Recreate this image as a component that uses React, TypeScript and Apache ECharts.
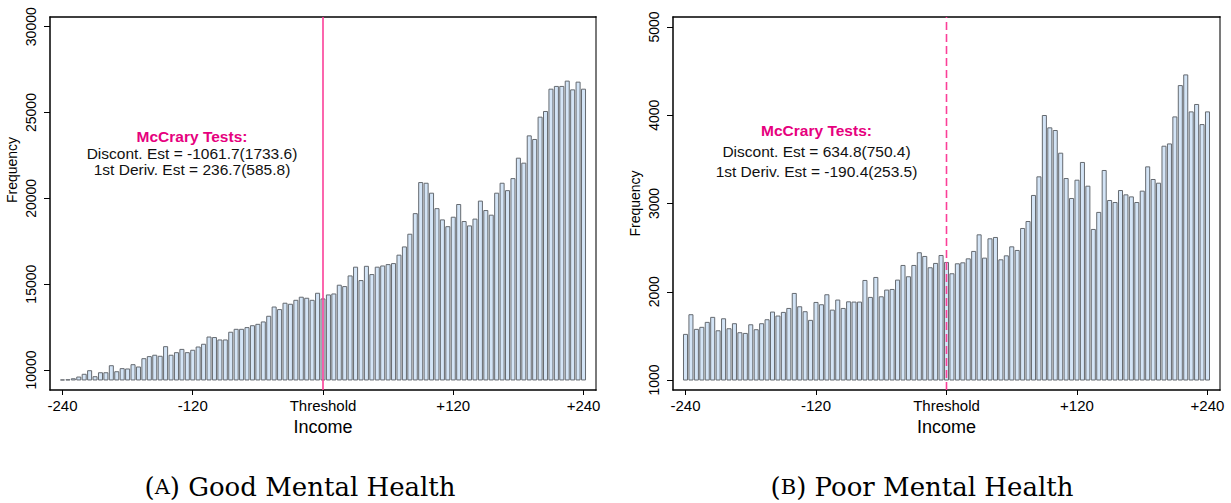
import React, { useEffect, useRef } from "react";
import * as echarts from "echarts";

// Bin centers (income distance to threshold)
const binCenters = [
  -240, -235, -230, -225, -220, -215, -210, -205, -200, -195, -190, -185, -180, -175, -170, -165,
  -160, -155, -150, -145, -140, -135, -130, -125, -120, -115, -110, -105, -100, -95, -90, -85,
  -80, -75, -70, -65, -60, -55, -50, -45, -40, -35, -30, -25, -20, -15, -10, -5,
  0, 5, 10, 15, 20, 25, 30, 35, 40, 45, 50, 55, 60, 65, 70, 75,
  80, 85, 90, 95, 100, 105, 110, 115, 120, 125, 130, 135, 140, 145, 150, 155,
  160, 165, 170, 175, 180, 185, 190, 195, 200, 205, 210, 215, 220, 225, 230, 235, 240,
];

// (A) Good Mental Health frequencies
const goodFreq = [
  9420, 9430, 9490, 9590, 9750, 9960, 9610, 9840, 9840, 10250, 9900, 10080, 10060, 10310, 10175, 10660,
  10780, 10860, 10800, 11360, 10860, 11010, 11200, 11010, 11150, 11340, 11500, 11920, 11890, 11750, 11750, 12200,
  12370, 12370, 12470, 12580, 12660, 12800, 13130, 13670, 13520, 13890, 13830, 14060, 14240, 14180, 14060, 14470,
  14140, 14373, 14430, 14940, 14860, 15480, 15990, 15210, 16040, 15560, 15990, 16060, 16140, 16200, 16690, 17170,
  17910, 19110, 20920, 20880, 20300, 19400, 18745, 18350, 18900, 19640, 18650, 18395, 18790, 19840, 19290, 19020,
  20300, 20880, 20450, 21150, 22340, 22050, 23640, 23430, 24730, 25060, 26360, 26520, 26520, 26830, 26320, 26770, 26360,
];

// (B) Poor Mental Health frequencies
const poorFreq = [
  1517, 1740, 1574, 1597, 1653, 1710, 1558, 1694, 1581, 1638, 1536, 1528, 1626, 1570, 1638, 1683,
  1770, 1725, 1766, 1811, 1981, 1830, 1774, 1676, 1879, 1853, 1966, 1792, 1906, 1811, 1886, 1883,
  1883, 2128, 1936, 2162, 1943, 2019, 2026, 2132, 2298, 2170, 2298, 2442, 2400, 2272, 2321, 2411,
  2332, 2204, 2317, 2328, 2373, 2457, 2645, 2381, 2600, 2615, 2362, 2407, 2509, 2468, 2717, 2796,
  3091, 3302, 3997, 3857, 3827, 3570, 3283, 3057, 3264, 3465, 3196, 2706, 2899, 3374, 3034, 3011,
  3147, 3098, 3075, 3011, 3140, 3415, 3272, 3230, 3649, 3675, 3981, 4336, 4457, 4038, 4122, 3894, 4038,
];

const goodBase = 9420;
const poorBase = 1000;
const binWidth = 5;

const xTickValues = [-240, -120, 0, 120, 240];
const xTickLabels = ["-240", "-120", "Threshold", "+120", "+240"];
const goodYTicks = [10000, 15000, 20000, 25000, 30000];
const poorYTicks = [1000, 2000, 3000, 4000, 5000];

const goodTests = ["McCrary Tests:", "Discont. Est = -1061.7(1733.6)", "1st Deriv. Est = 236.7(585.8)"];
const poorTests = ["McCrary Tests:", "Discont. Est = 634.8(750.4)", "1st Deriv. Est = -190.4(253.5)"];
const captionLetters = ["A", "B"];
const captionTitles = ["Good Mental Health", "Poor Mental Health"];

const SANS = "'Liberation Sans', Arial, Helvetica, sans-serif";
const SERIF = "'DejaVu Serif', serif";
const MAGENTA = "#e6007e";
const PINK = "#fb3f98";

export default function App() {
  const ref = useRef<HTMLDivElement | null>(null);

  useEffect(() => {
    if (!ref.current) return;
    const chart = echarts.init(ref.current, undefined, { renderer: "svg" });

    const xFmt = (v: number) => {
      const i = xTickValues.indexOf(v);
      return i >= 0 ? xTickLabels[i] : "";
    };

    const panels = [
      { left: 50, width: 546, yMin: 8835, yMax: 30565, yTicks: goodYTicks, base: goodBase, freq: goodFreq, dashed: false },
      { left: 673, width: 547, yMin: 887, yMax: 5113, yTicks: poorYTicks, base: poorBase, freq: poorFreq, dashed: true },
    ];

    const grid: any[] = [];
    const xAxis: any[] = [];
    const yAxis: any[] = [];
    const series: any[] = [];

    panels.forEach((p, i) => {
      grid.push({ left: p.left, top: 17, width: p.width, height: 373, containLabel: false });
      xAxis.push({
        type: "value",
        gridIndex: i,
        position: "bottom",
        min: -251.5,
        max: 251.5,
        axisLine: { show: true, onZero: false, lineStyle: { color: "#000", width: 1.5 } },
        axisTick: { show: true, customValues: xTickValues, length: 5, lineStyle: { color: "#000", width: 1 } },
        axisLabel: {
          show: true,
          customValues: xTickValues,
          formatter: xFmt,
          fontSize: 15,
          fontFamily: SANS,
          color: "#000",
          margin: 8,
        },
        splitLine: { show: false },
        name: "Income",
        nameLocation: "middle",
        nameGap: 23,
        nameTextStyle: { fontSize: 18, fontFamily: SANS, color: "#000", verticalAlign: "top" },
      });
      xAxis.push({
        type: "value",
        gridIndex: i,
        position: "top",
        min: -251.5,
        max: 251.5,
        axisLine: { show: true, onZero: false, lineStyle: { color: "#000", width: 1.5 } },
        axisTick: { show: false },
        axisLabel: { show: false },
        splitLine: { show: false },
      });
      yAxis.push({
        type: "value",
        gridIndex: i,
        position: "left",
        min: p.yMin,
        max: p.yMax,
        axisLine: { show: true, onZero: false, lineStyle: { color: "#000", width: 1.5 } },
        axisTick: { show: true, customValues: p.yTicks, length: 6, lineStyle: { color: "#000", width: 1 } },
        axisLabel: {
          show: true,
          customValues: p.yTicks,
          formatter: (v: number) => String(v),
          rotate: 90,
          fontSize: 14,
          fontFamily: SANS,
          color: "#000",
          margin: 12,
        },
        splitLine: { show: false },
      });
      yAxis.push({
        type: "value",
        gridIndex: i,
        position: "right",
        min: p.yMin,
        max: p.yMax,
        axisLine: { show: true, onZero: false, lineStyle: { color: "#7a7a7a", width: 2 } },
        axisTick: { show: false },
        axisLabel: { show: false },
        splitLine: { show: false },
      });

      const base = p.base;
      series.push({
        type: "custom",
        xAxisIndex: i * 2,
        yAxisIndex: i * 2,
        clip: true,
        silent: true,
        encode: { x: 0, y: 1 },
        data: binCenters.map((x, k) => [x, p.freq[k]]),
        renderItem: (_params: any, api: any) => {
          const x = api.value(0);
          const y = api.value(1);
          const top = api.coord([x, y]);
          const bottom = api.coord([x, base]);
          const w = api.size([binWidth, 0])[0];
          const bw = w - 1.4;
          return {
            type: "rect",
            shape: { x: top[0] - bw / 2, y: top[1], width: bw, height: bottom[1] - top[1] },
            style: { fill: "#d3e4f6", stroke: "#656a70", lineWidth: 1 },
          };
        },
      });
      series.push({
        type: "line",
        xAxisIndex: i * 2,
        yAxisIndex: i * 2,
        silent: true,
        symbol: "none",
        z: 5,
        lineStyle: { color: PINK, width: 1.6, type: p.dashed ? [8, 4] : "solid" },
        data: [
          [0, p.yMin],
          [0, p.yMax],
        ],
      });
    });

    const graphic: any[] = [];
    const testLayouts = [
      { cx: 192, ys: [136.5, 153, 169.5], lines: goodTests },
      { cx: 816.5, ys: [130.5, 151, 171.5], lines: poorTests },
    ];
    testLayouts.forEach((t) => {
      t.lines.forEach((line, j) => {
        graphic.push({
          type: "text",
          x: t.cx,
          y: t.ys[j],
          silent: true,
          style: {
            text: line,
            fill: j === 0 ? MAGENTA : "#111",
            font: (j === 0 ? "bold " : "") + "15.5px " + SANS,
            align: "center",
            verticalAlign: "middle",
            textAlign: "center",
            textVerticalAlign: "middle",
          },
        });
      });
    });

    const freqLabels = [
      { x: 12, y: 170 },
      { x: 635, y: 203.5 },
    ];
    freqLabels.forEach((f) => {
      graphic.push({
        type: "text",
        x: f.x,
        y: f.y,
        rotation: Math.PI / 2,
        silent: true,
        style: {
          text: "Frequency",
          fill: "#000",
          font: "14px " + SANS,
          align: "center",
          verticalAlign: "middle",
          textAlign: "center",
          textVerticalAlign: "middle",
        },
      });
    });

    const captionX = [300, 922];
    captionLetters.forEach((letter, i) => {
      graphic.push({
        type: "text",
        x: captionX[i],
        y: 487,
        silent: true,
        style: {
          text: "{p|(}{s|" + letter + "}{p|) " + captionTitles[i] + "}",
          rich: {
            p: { font: "26px " + SERIF, fill: "#000" },
            s: { font: "21px " + SERIF, fill: "#000" },
          },
          fill: "#000",
          align: "center",
          verticalAlign: "middle",
          textAlign: "center",
          textVerticalAlign: "middle",
        },
      });
    });

    chart.setOption({
      animation: false,
      backgroundColor: "#fff",
      grid,
      xAxis,
      yAxis,
      series,
      graphic,
    });

    return () => {
      chart.dispose();
    };
  }, []);

  return (
    <div
      ref={ref}
      style={{ position: "absolute", left: 0, top: 0, width: 1231, height: 503, background: "#fff" }}
    />
  );
}
